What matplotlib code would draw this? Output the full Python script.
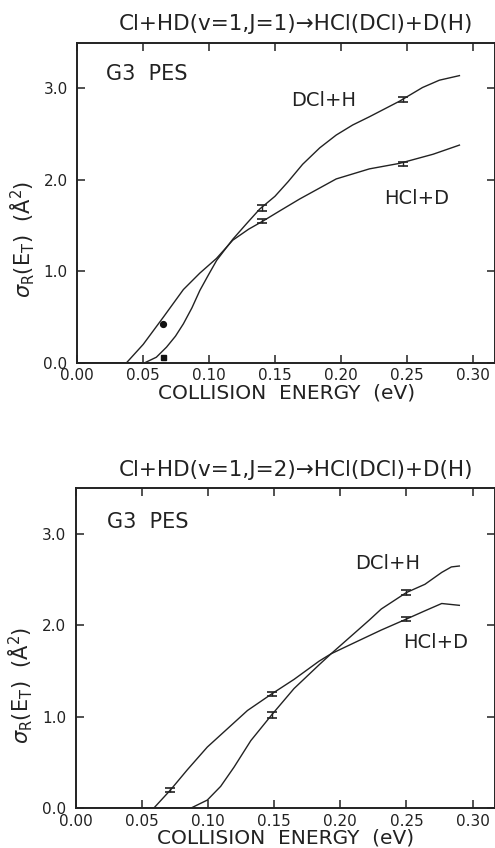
import numpy as np
import matplotlib
matplotlib.use('Agg')
import matplotlib.pyplot as plt

plt.rcParams['font.family'] = ['DejaVu Sans']
plt.rcParams['mathtext.fontset'] = 'dejavusans'

# --- data: collision energy (eV) vs sigma_R (A^2) ---
# J = 1 panel
j1_dcl_x = [0.0, 0.0513, 0.060, 0.0677, 0.0745, 0.0805, 0.087, 0.093, 0.0995, 0.1058,
            0.118, 0.1284, 0.1384, 0.150, 0.160, 0.171, 0.184, 0.1965, 0.209, 0.2217,
            0.2445, 0.262, 0.2748, 0.290]
j1_dcl_y = [0.0, 0.0, 0.06, 0.17, 0.29, 0.425, 0.60, 0.79, 0.96, 1.12,
            1.35, 1.52, 1.68, 1.82, 1.98, 2.17, 2.35, 2.49, 2.60, 2.69,
            2.86, 3.01, 3.09, 3.14]
j1_hcl_x = [0.0, 0.0374, 0.050, 0.0654, 0.0805, 0.093, 0.1056, 0.118, 0.130, 0.141,
            0.1536, 0.1687, 0.1965, 0.2217, 0.2445, 0.270, 0.290]
j1_hcl_y = [0.0, 0.0, 0.20, 0.50, 0.80, 0.98, 1.14, 1.34, 1.46, 1.55,
            1.66, 1.79, 2.01, 2.12, 2.18, 2.28, 2.38]
j1_err_x = [0.140, 0.140, 0.247, 0.247]
j1_err_y = [1.69, 1.55, 2.88, 2.17]
j1_err = [0.03, 0.025, 0.025, 0.02]
j1_circle = (0.0647, 0.426)
j1_square = (0.0647, 0.06)

# J = 2 panel
j2_dcl_x = [0.0, 0.0867, 0.0994, 0.1095, 0.1196, 0.1323, 0.148, 0.165, 0.184, 0.193,
            0.2134, 0.222, 0.231, 0.250, 0.264, 0.2767, 0.284, 0.290]
j2_dcl_y = [0.0, 0.0, 0.09, 0.24, 0.45, 0.74, 1.02, 1.31, 1.57, 1.69,
            1.95, 2.06, 2.18, 2.36, 2.45, 2.58, 2.64, 2.65]
j2_hcl_x = [0.0, 0.0588, 0.0715, 0.0842, 0.0994, 0.1146, 0.1298, 0.148, 0.165, 0.184,
            0.193, 0.2134, 0.231, 0.250, 0.264, 0.2767, 0.290]
j2_hcl_y = [0.0, 0.0, 0.20, 0.42, 0.67, 0.87, 1.07, 1.25, 1.41, 1.61,
            1.69, 1.83, 1.95, 2.07, 2.16, 2.24, 2.22]
j2_err_x = [0.0715, 0.148, 0.148, 0.250, 0.250]
j2_err_y = [0.20, 1.25, 1.02, 2.36, 2.07]
j2_err = [0.025, 0.025, 0.03, 0.025, 0.025]

titles = ['Cl+HD(v=1,J=1)\u2192HCl(DCl)+D(H)', 'Cl+HD(v=1,J=2)\u2192HCl(DCl)+D(H)']
xticks = [0.00, 0.05, 0.10, 0.15, 0.20, 0.25, 0.30]
yticks = [0.0, 1.0, 2.0, 3.0]

W, H = 495, 848
fig = plt.figure(figsize=(W / 100, H / 100), dpi=100)

panels = [
    dict(box=(77.3, 42.7, 362.7), dcl=(j1_dcl_x, j1_dcl_y), hcl=(j1_hcl_x, j1_hcl_y),
         err=(j1_err_x, j1_err_y, j1_err), pes=(0.022, 3.16), dlab=(0.162, 2.87),
         hlab=(0.233, 1.80), title_y=24),
    dict(box=(75.9, 488.3, 808.3), dcl=(j2_dcl_x, j2_dcl_y), hcl=(j2_hcl_x, j2_hcl_y),
         err=(j2_err_x, j2_err_y, j2_err), pes=(0.0234, 3.13), dlab=(0.211, 2.68),
         hlab=(0.2476, 1.81), title_y=470),
]

for i, p in enumerate(panels):
    left, top, bottom = p['box']
    ax = fig.add_axes([left / W, 1 - bottom / H, 1 - left / W, (bottom - top) / H])
    ax.set_xlim(0, 0.317)
    ax.set_ylim(0, 3.5)

    ax.plot(*p['dcl'], color='#222222', lw=1.0)
    ax.plot(*p['hcl'], color='#222222', lw=1.0)
    ex, ey, ee = p['err']
    ax.errorbar(ex, ey, yerr=ee, fmt='none', ecolor='#222222', elinewidth=1.0,
                capsize=3.6, capthick=1.2)
    if i == 0:
        ax.plot(*j1_circle, 'o', color='#111111', ms=4.2)
        ax.plot(*j1_square, 's', color='#111111', ms=3.6)

    ax.text(p['pes'][0], p['pes'][1], 'G3  PES', fontsize=15, va='center', ha='left',
            color='#222222')
    ax.text(p['dlab'][0], p['dlab'][1], 'DCl+H', fontsize=14, va='center', ha='left',
            color='#222222')
    ax.text(p['hlab'][0], p['hlab'][1], 'HCl+D', fontsize=14, va='center', ha='left',
            color='#222222')

    ax.set_xticks(xticks)
    ax.set_xticklabels([f'{v:.2f}' for v in xticks])
    ax.set_yticks(yticks)
    ax.set_yticklabels([f'{v:.1f}' for v in yticks])
    ax.tick_params(direction='in', top=True, right=True, length=6, width=1.1,
                   labelsize=11, colors='#222222')
    ax.tick_params(axis='x', pad=4)
    ax.tick_params(axis='y', pad=7)
    for s in ax.spines.values():
        s.set_linewidth(1.4)
        s.set_color('#222222')

    ax.set_xlabel('COLLISION  ENERGY  (eV)', fontsize=14.5, color='#222222', labelpad=0)
    ax.set_ylabel(r'$\sigma_\mathrm{R}(\mathrm{E}_\mathrm{T})$  ($\mathrm{\AA}^{2}$)',
                  fontsize=15, color='#222222')
    ax.yaxis.set_label_coords(-0.097, 0.385)

    fig.text(296 / W, 1 - p['title_y'] / H, titles[i], fontsize=15.5, ha='center',
             va='center', color='#222222')

fig.savefig('out.png', dpi=100)
